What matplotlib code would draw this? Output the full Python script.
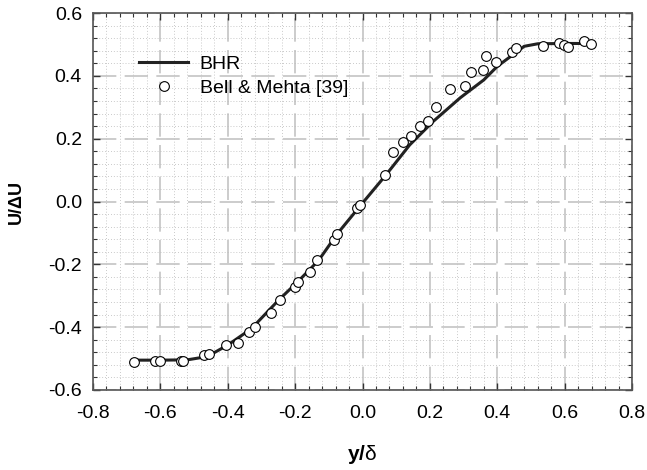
import numpy as np
import matplotlib
matplotlib.use('Agg')
import matplotlib.pyplot as plt
import matplotlib as mpl
from matplotlib.ticker import MultipleLocator

mpl.rcParams['font.family'] = 'Liberation Sans'
mpl.rcParams['mathtext.fontset'] = 'custom'
mpl.rcParams['mathtext.rm'] = 'Liberation Sans'
mpl.rcParams['mathtext.bf'] = 'Liberation Sans:bold'

# BHR model curve
bhr_x = [-0.68, -0.60, -0.52, -0.48, -0.45, -0.40, -0.33, -0.25, -0.19, -0.13,
         -0.075, 0.0, 0.07, 0.14, 0.21, 0.29, 0.36, 0.40, 0.45, 0.48, 0.52, 0.60, 0.67]
bhr_y = [-0.505, -0.505, -0.504, -0.497, -0.487, -0.457, -0.405, -0.315, -0.253, -0.187,
         -0.103, -0.005, 0.085, 0.18, 0.255, 0.33, 0.387, 0.43, 0.47, 0.494, 0.502, 0.503, 0.503]

# Bell & Mehta [39] experimental data
exp_x = [-0.679, -0.617, -0.601, -0.540, -0.532, -0.471, -0.456, -0.406, -0.370, -0.337,
         -0.320, -0.273, -0.245, -0.199, -0.191, -0.157, -0.134, -0.085, -0.075, -0.016,
         -0.006, 0.068, 0.090, 0.121, 0.145, 0.170, 0.195, 0.217, 0.259, 0.304,
         0.323, 0.358, 0.367, 0.395, 0.445, 0.456, 0.536, 0.583, 0.598, 0.611,
         0.657, 0.677]
exp_y = [-0.510, -0.509, -0.509, -0.508, -0.508, -0.488, -0.486, -0.457, -0.450, -0.416,
         -0.400, -0.355, -0.315, -0.272, -0.256, -0.224, -0.185, -0.124, -0.103, -0.020,
         -0.012, 0.083, 0.158, 0.190, 0.208, 0.240, 0.257, 0.302, 0.358, 0.369,
         0.412, 0.417, 0.462, 0.445, 0.475, 0.490, 0.496, 0.503, 0.497, 0.493,
         0.512, 0.502]

fig = plt.figure(figsize=(6.47, 4.70), dpi=100)
ax = fig.add_axes([93/647, 1-390/470, (632-93)/647, (390-13)/470])

ax.set_xlim(-0.8, 0.8)
ax.set_ylim(-0.6, 0.6)
ax.xaxis.set_major_locator(MultipleLocator(0.2))
ax.yaxis.set_major_locator(MultipleLocator(0.2))
ax.xaxis.set_minor_locator(MultipleLocator(0.04))
ax.yaxis.set_minor_locator(MultipleLocator(0.04))
ax.xaxis.set_major_formatter(plt.FormatStrFormatter('%.1f'))
ax.yaxis.set_major_formatter(plt.FormatStrFormatter('%.1f'))

ax.grid(which='minor', color='#b8b8b8', linestyle=(0, (1, 2.5)), linewidth=0.6)
ax.grid(which='major', color='#c4c4c4', linestyle=(0, (14, 5)), linewidth=1.2)
ax.set_axisbelow(True)

ax.tick_params(which='both', direction='in', top=True, right=True,
               colors='#333333', labelcolor='black', labelsize=14)
ax.tick_params(which='major', length=5, width=1)
ax.tick_params(which='minor', length=3, width=0.8)
ax.tick_params(axis='x', pad=11)
ax.tick_params(axis='y', pad=8)
for s in ax.spines.values():
    s.set_color('#555555')
    s.set_linewidth(1.2)

ax.plot(bhr_x, bhr_y, color='#222222', linewidth=2.2, label='BHR', zorder=3)
ax.plot(exp_x, exp_y, linestyle='none', marker='o', markersize=7,
        markerfacecolor='white', markeredgecolor='black', markeredgewidth=0.8,
        label='Bell & Mehta [39]', zorder=4)

ax.set_xlabel(r'$\mathbf{y/}\mathrm{\delta}$', fontsize=15, labelpad=15)
ax.set_ylabel('U/ΔU', fontsize=13, fontweight='bold', labelpad=17)

ax.legend(loc='upper left', bbox_to_anchor=(0.086, 0.888), frameon=False,
          fontsize=14, handlelength=2.5, handletextpad=0.6, borderpad=0,
          borderaxespad=0, labelspacing=0.34)

fig.savefig('out.png', dpi=100)
